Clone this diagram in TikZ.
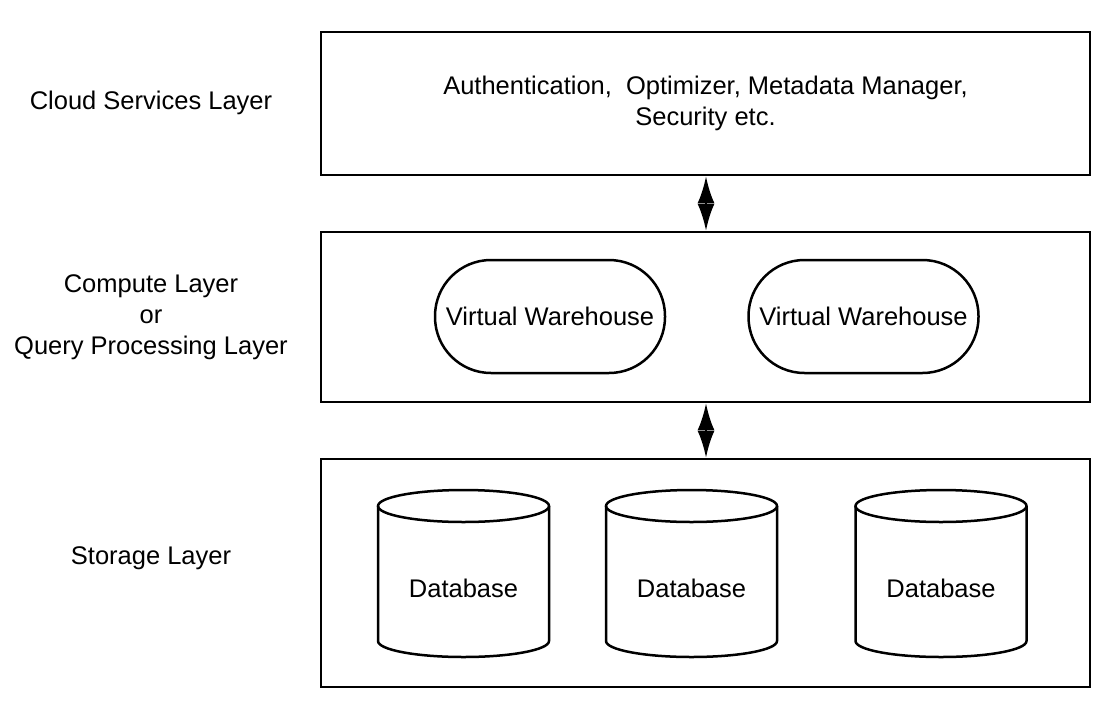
\documentclass[tikz,border=0pt]{standalone}
\usepackage{fontspec}
\setmainfont{Liberation Sans}
\usetikzlibrary{arrows.meta}
\usetikzlibrary{positioning}
\tikzset{layer/.style = {draw, line width = 2.5pt, minimum width = 769pt, inner sep = 0}}
\tikzset{warehouse/.style = {draw, line width = 2.5pt, rounded corners = 56pt,
                             minimum width = 230pt, minimum height = 113pt}}
\tikzset{link/.style = {line width = 2.5pt,
                        {Latex[length=27pt, width=17pt]}-{Latex[length=27pt, width=17pt]}}}
\tikzset{caption/.style = {align = center}}

\begin{document}
\begin{tikzpicture}[x=1pt, y=-1pt,
    every node/.style = {font = \fontsize{25.5}{31}\selectfont}]
    \useasboundingbox (0, 0) rectangle (1107, 704);

    % layers
    \node [layer, minimum height = 143pt, align = center] (cloud) at (705.5, 103.5)
        {Authentication,\ \ Optimizer, Metadata Manager,\\Security etc.};
    \node [layer, minimum height = 170pt] (compute) at (705.5, 317) {};
    \node [layer, minimum height = 228pt] (storage) at (705.5, 573) {};

    \draw [link] (cloud.south -| 706, 0) -- (compute.north -| 706, 0);
    \draw [link] (compute.south -| 706, 0) -- (storage.north -| 706, 0);

    % left captions
    \node [caption] (cloudcap) at (151, 103) {Cloud Services Layer};
    \node [caption] (computecap) at (151, 317) {Compute Layer\\or\\Query Processing Layer};
    \node [caption] (storagecap) at (151, 558) {Storage Layer};

    % compute layer
    \node [warehouse] (vw1) at (550, 316.5) {Virtual Warehouse};
    \node [warehouse] (vw2) at (863.5, 316.5) {Virtual Warehouse};

    % storage layer
    \foreach \x/\name in {463.5/db1, 691.5/db2, 941/db3} {
        \draw [line width = 2.5pt] (\x - 85.5, 506) -- (\x - 85.5, 641)
            arc (180:0:85.5 and 16) -- (\x + 85.5, 506);
        \draw [line width = 2.5pt] (\x, 506) ellipse (85.5 and 16);
        \node (\name) at (\x, 588) {Database};
    }
\end{tikzpicture}
\end{document}
